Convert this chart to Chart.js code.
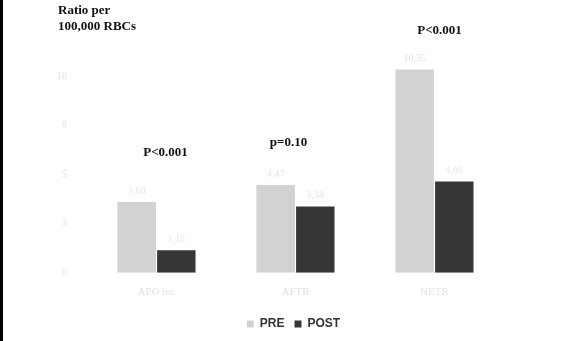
<!DOCTYPE html>
<html>
<head>
<meta charset="utf-8">
<script src="https://cdn.jsdelivr.net/npm/chart.js@4.4.0/dist/chart.umd.min.js"></script>
<style>
  html, body { margin: 0; padding: 0; background: #fff; }
  #wrap { position: relative; width: 562px; height: 341px; }
  #wrap:before { content: ''; position: absolute; left: 0; top: 0; width: 3px; height: 341px; background: #000; z-index: 2; }
</style>
</head>
<body>
<div id="wrap"><canvas id="ratioChart" width="562" height="341"></canvas></div>
<script>
// chart data
const categories = ['APO loc', 'AFTR', 'NETR'];
const preValues = [3.60, 4.47, 10.35];
const postValues = [1.15, 3.38, 4.65];
const pLabels = ['P<0.001', 'p=0.10', 'P<0.001'];
const pLabelHeights = [6.1, 6.6, 12.3];
const yTicks = [0, 2.5, 5, 7.5, 10];

// faint value labels above each bar + the p-value annotations
const barLabels = {
    id: 'barLabels',
    afterLayout(chart) {
        // reference legend sits a bit right of the canvas centre and a little lower
        chart.legend.left += 19;
        chart.legend.right += 19;
        chart.legend.top += 4;
        chart.legend.bottom += 4;
    },
    afterDatasetsDraw(chart) {
        const ctx = chart.ctx;
        ctx.save();
        ctx.textAlign = 'center';
        ctx.textBaseline = 'bottom';
        ctx.font = '10px "Liberation Serif", serif';
        ctx.fillStyle = '#e4e4e4';
        chart.data.datasets.forEach((ds, i) => {
            chart.getDatasetMeta(i).data.forEach((bar, j) => {
                ctx.fillText(ds.data[j].toFixed(2).replace('.', ','), bar.x, bar.y - 6);
            });
        });
        const x = chart.scales.x;
        const y = chart.scales.y;
        const shift = [9, -7, 5];
        ctx.fillStyle = '#111';
        ctx.font = 'bold 13px "Liberation Serif", serif';
        ctx.textBaseline = 'middle';
        pLabels.forEach((t, i) => {
            ctx.fillText(t, x.getPixelForValue(i) + shift[i], y.getPixelForValue(pLabelHeights[i]));
        });
        ctx.textAlign = 'left';
        ctx.fillText('Ratio per', 58, 11);
        ctx.fillText('100,000 RBCs', 58, 27);
        ctx.restore();
    }
};

new Chart(document.getElementById('ratioChart'), {
    type: 'bar',
    data: {
        labels: categories,
        datasets: [
            { label: 'PRE', data: preValues, backgroundColor: '#d2d2d2' },
            { label: 'POST', data: postValues, backgroundColor: '#363636' }
        ]
    },
    options: {
        responsive: false,
        animation: false,
        layout: { padding: { top: 37, left: 45, right: 58, bottom: 5 } },
        datasets: { bar: { categoryPercentage: 0.57, barPercentage: 0.97 } },
        scales: {
            x: {
                grid: { display: false },
                border: { display: false },
                ticks: { color: '#e2e2e2', font: { family: '"Liberation Serif", serif', size: 11 }, padding: 5 }
            },
            y: {
                min: 0,
                max: 12,
                afterBuildTicks: (axis) => { axis.ticks = yTicks.map(v => ({ value: v })); },
                grid: { display: false },
                border: { display: false },
                ticks: {
                    color: '#e2e2e2',
                    font: { family: '"Liberation Serif", serif', size: 10 },
                    padding: 12,
                    callback: (v) => String(Math.round(v))
                }
            }
        },
        plugins: {
            legend: {
                position: 'bottom',
                labels: {
                    boxWidth: 7,
                    boxHeight: 7,
                    padding: 10,
                    color: '#333',
                    font: { family: '"Liberation Sans", Arial, sans-serif', size: 12, weight: 'bold' }
                }
            },
            tooltip: { enabled: false }
        }
    },
    plugins: [barLabels]
});
</script>
</body>
</html>
